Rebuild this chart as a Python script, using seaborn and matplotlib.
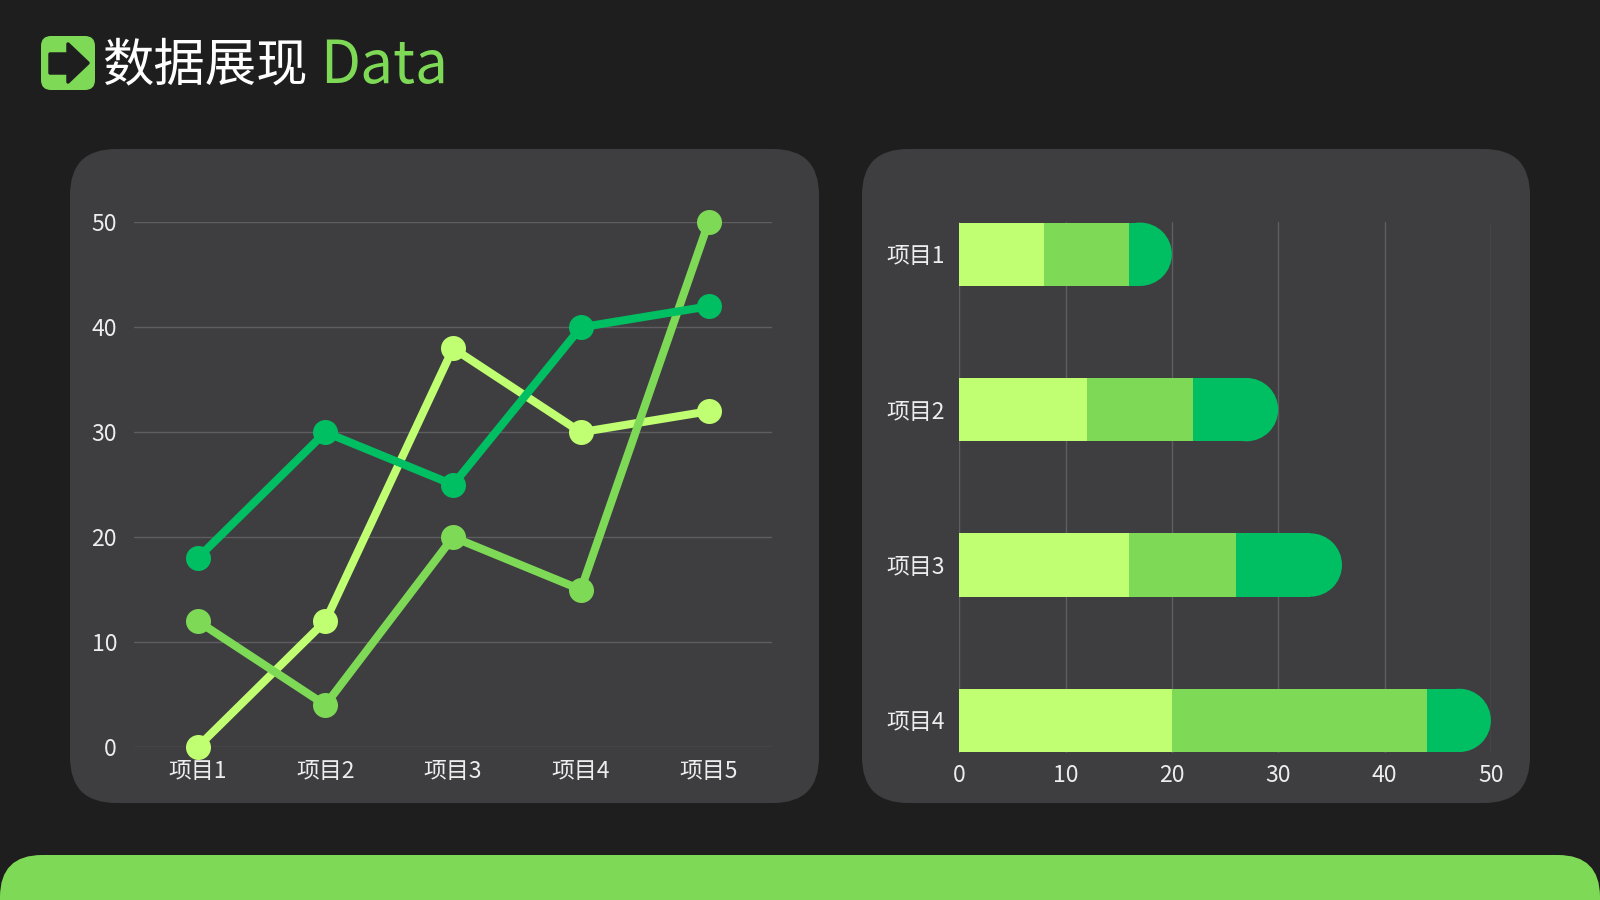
import numpy as np
import pandas as pd
import matplotlib
matplotlib.use("Agg")
import matplotlib.pyplot as plt
from matplotlib.patches import FancyBboxPatch, Ellipse, Polygon
import seaborn as sns

# Colours
BG = "#1E1E1E"
PANEL = "#3E3E40"
GRID = "#5E5E60"
TEXT = "#EDEDED"
LIGHT = "#C1FF72"
MID = "#7ED957"
DARK = "#00BF63"

# Line chart data
line_items = ["项目1", "项目2", "项目3", "项目4", "项目5"]
series_dark = [18, 30, 25, 40, 42]
series_mid = [12, 4, 20, 15, 50]
series_light = [0, 12, 38, 30, 32]
line_ticks = [0, 10, 20, 30, 40, 50]

# Bar chart data (stacked segments)
bar_items = ["项目1", "项目2", "项目3", "项目4"]
seg_light = [8, 12, 16, 20]
seg_mid = [8, 10, 10, 24]
seg_dark = [4, 8, 10, 6]
bar_ticks = [0, 10, 20, 30, 40, 50]

sns.set_theme(style="dark")
plt.rcParams['font.family'] = ['Noto Sans CJK SC', 'DejaVu Sans']

fig = plt.figure(figsize=(16, 9), dpi=100, facecolor=BG)

# Background layer in pixel coordinates (equal aspect, y downwards)
bg = fig.add_axes([0, 0, 1, 1], zorder=0)
bg.set_xlim(0, 1600)
bg.set_ylim(900, 0)
bg.axis("off")
bg.set_facecolor(BG)

def rounded(ax, x, y, w, h, r, color):
    ax.add_patch(FancyBboxPatch((x, y), w, h, boxstyle=f"round,pad=0,rounding_size={r}",
                                facecolor=color, edgecolor="none"))

rounded(bg, 70, 149, 749, 654, 46, PANEL)
rounded(bg, 862, 149, 668, 654, 46, PANEL)
rounded(bg, 0, 855, 1600, 120, 42, MID)

# Title icon
rounded(bg, 41, 36, 54, 54, 10, MID)
arrow = [(50, 54), (68, 54), (68, 44), (88, 63), (68, 82), (68, 73), (50, 73)]
bg.add_patch(Polygon(arrow, closed=True, facecolor=BG, edgecolor=BG, linewidth=2.5,
                     joinstyle="round"))
bg.text(102, 66, "数据展现", color="white", fontsize=37, va="center", ha="left")
bg.text(320, 66, "Data", color=MID, fontsize=42, fontweight="light",
        va="center", ha="left")

# ---- Line chart ----
ax1 = fig.add_axes([0.0836, 0.170, 0.3992, 0.5829], zorder=2)
ax1.set_facecolor("none")
df_line = pd.DataFrame({
    "item": line_items * 3,
    "value": series_light + series_mid + series_dark,
    "series": ["light"] * 5 + ["mid"] * 5 + ["dark"] * 5,
})
sns.lineplot(data=df_line, x="item", y="value", hue="series",
             hue_order=["light", "mid", "dark"],
             palette={"light": LIGHT, "mid": MID, "dark": DARK},
             marker="o", markersize=18, markeredgewidth=0, linewidth=5.8,
             sort=False, legend=False, clip_on=False, ax=ax1)
ax1.set_xlim(-0.5, 4.5)
ax1.set_ylim(0, 50)
ax1.set_yticks(line_ticks)
ax1.yaxis.grid(True, color=GRID, linewidth=1)
ax1.xaxis.grid(False)
ax1.set_axisbelow(True)
for s in ax1.spines.values():
    s.set_visible(False)
ax1.tick_params(axis="both", colors=TEXT, labelsize=16.5, length=0)
ax1.tick_params(axis="y", pad=12)
ax1.tick_params(axis="x", pad=9)
ax1.set_xlabel("")
ax1.set_ylabel("")

# ---- Stacked bar chart ----
ax2 = fig.add_axes([0.5995, 0.1633, 0.3323, 0.5896], zorder=2)
ax2.set_facecolor("none")
bar_h = 0.4075
cum1 = np.array(seg_light)
cum2 = cum1 + np.array(seg_mid)
total = cum2 + np.array(seg_dark)

ax2.set_xlim(0, 50)
ax2.set_ylim(3.21, -0.205)
fig.canvas.draw()
bbox = ax2.get_window_extent()
px_per_x = bbox.width / 50
px_per_y = bbox.height / (3.21 + 0.205)
r_units = (bar_h / 2) * px_per_y / px_per_x

df_bar = pd.DataFrame({"item": bar_items, "total": total - r_units,
                       "cum2": cum2, "cum1": cum1})
sns.barplot(data=df_bar, x="total", y="item", orient="h", color=DARK,
            width=bar_h, saturation=1, linewidth=0, ax=ax2)
sns.barplot(data=df_bar, x="cum2", y="item", orient="h", color=MID,
            width=bar_h, saturation=1, linewidth=0, ax=ax2)
sns.barplot(data=df_bar, x="cum1", y="item", orient="h", color=LIGHT,
            width=bar_h, saturation=1, linewidth=0, ax=ax2)
# layering: dark bars < round caps < mid < light
n = len(bar_items)
for k, p in enumerate(ax2.patches):
    p.set_zorder(2 + k // n)
for i, t in enumerate(total):
    ax2.add_patch(Ellipse((t - r_units, i), 2 * r_units, bar_h,
                          facecolor=DARK, edgecolor="none", zorder=2.1))

ax2.set_xlim(0, 50)
ax2.set_ylim(3.21, -0.205)
ax2.set_xticks(bar_ticks)
ax2.xaxis.grid(True, color=GRID, linewidth=1)
ax2.yaxis.grid(False)
ax2.set_axisbelow(True)
for s in ax2.spines.values():
    s.set_visible(False)
ax2.tick_params(axis="both", colors=TEXT, labelsize=16.5, length=0)
ax2.tick_params(axis="y", pad=10)
ax2.tick_params(axis="x", pad=8)
ax2.set_xlabel("")
ax2.set_ylabel("")

fig.savefig("out.png", dpi=100, facecolor=BG)
